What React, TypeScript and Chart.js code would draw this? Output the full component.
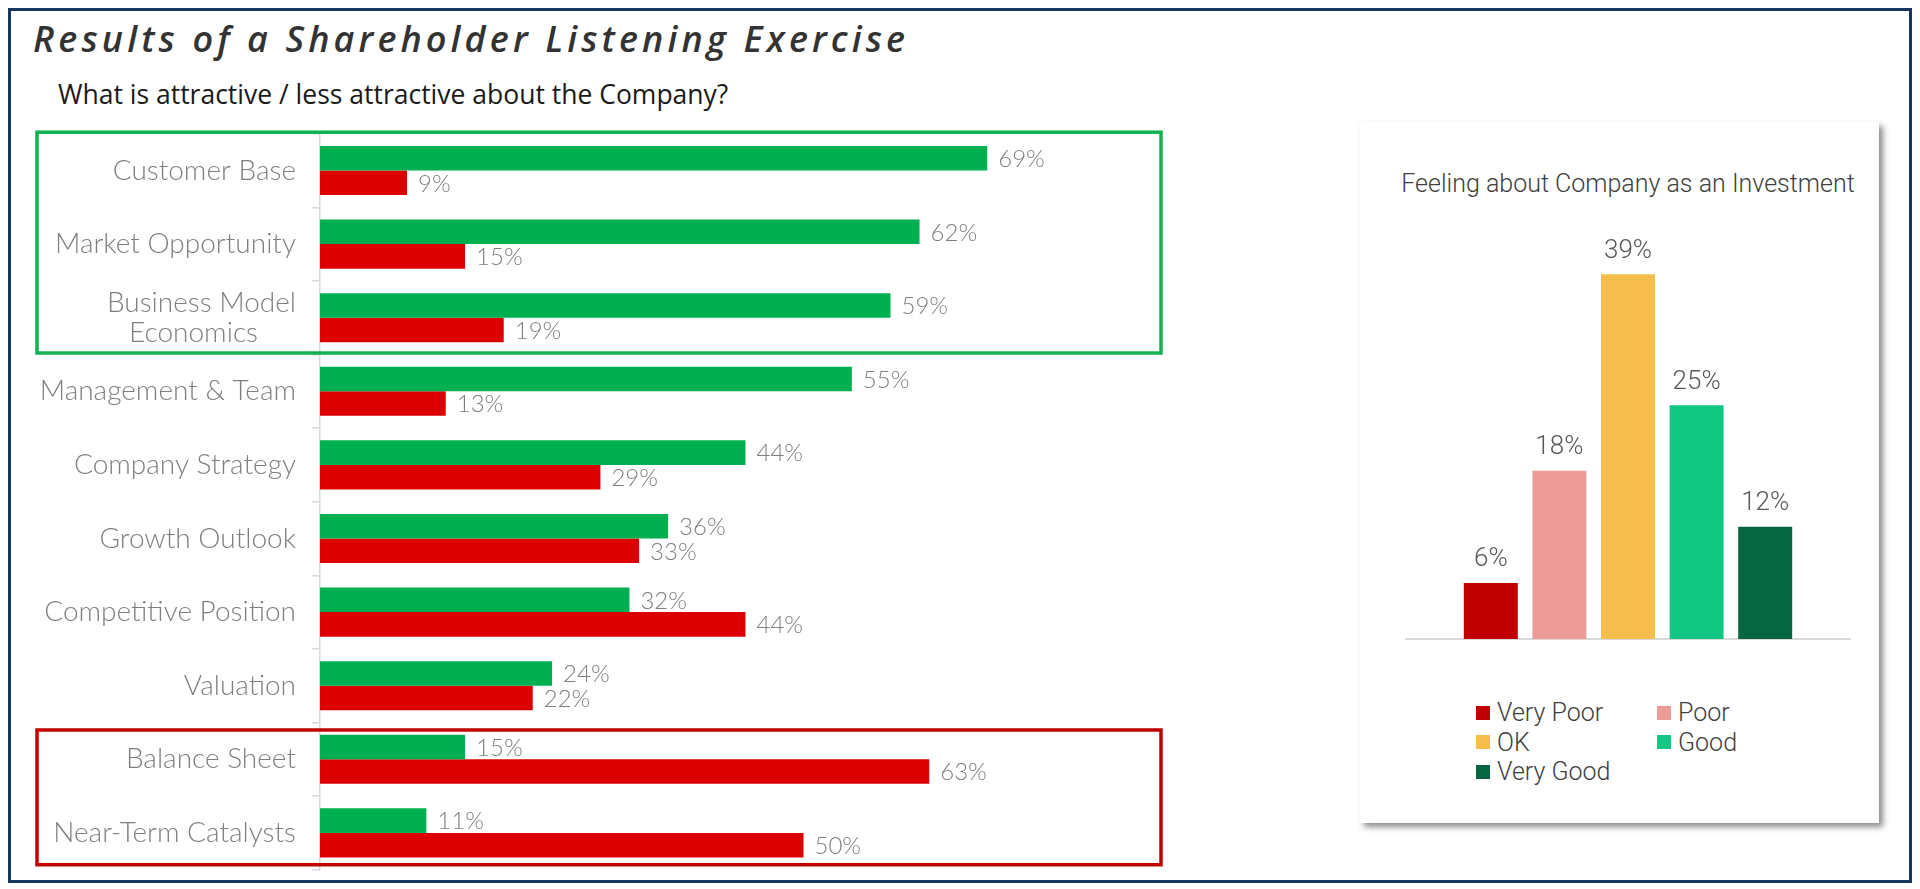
import React, { useEffect, useRef } from 'react';
import { Chart, registerables } from 'chart.js';

Chart.register(...registerables);

// ---------- Data ----------
const categories: (string | string[])[] = [
  'Customer Base',
  'Market Opportunity',
  ['Business Model', 'Economics     '],
  'Management & Team',
  'Company Strategy',
  'Growth Outlook',
  'Competitive Position',
  'Valuation',
  'Balance Sheet',
  'Near-Term Catalysts',
];
const attractive = [69, 62, 59, 55, 44, 36, 32, 24, 15, 11];
const lessAttractive = [9, 15, 19, 13, 29, 33, 44, 22, 63, 50];

const feelingLabels = ['Very Poor', 'Poor', 'OK', 'Good', 'Very Good'];
const feelingValues = [6, 18, 39, 25, 12];
const feelingColors = ['#C00000', '#EC9B97', '#F5BD4C', '#12C784', '#066641'];

const pageTitle = 'Results of a Shareholder Listening Exercise';
const pageSubtitle = 'What is attractive / less attractive about the Company?';
const rightTitle = 'Feeling about Company as an Investment';

// ---------- Plugins ----------
const valueLabels = {
  id: 'valueLabels',
  afterDatasetsDraw(chart: any, _args: any, opts: any) {
    const { ctx } = chart;
    ctx.save();
    ctx.font = opts.font;
    ctx.fillStyle = opts.color;
    chart.data.datasets.forEach((ds: any, i: number) => {
      const meta = chart.getDatasetMeta(i);
      meta.data.forEach((el: any, j: number) => {
        const text = ds.data[j] + '%';
        if (opts.horizontal) {
          ctx.textAlign = 'left';
          ctx.textBaseline = 'middle';
          ctx.fillText(text, el.x + opts.offset, el.y + 1);
        } else {
          ctx.textAlign = 'center';
          ctx.textBaseline = 'bottom';
          ctx.fillText(text, el.x, el.y - opts.offset);
        }
      });
    });
    ctx.restore();
  },
};

const highlightBoxes = {
  id: 'highlightBoxes',
  afterDraw(chart: any, _args: any, opts: any) {
    const { ctx } = chart;
    const y = chart.scales.y;
    const half = (y.getPixelForValue(1) - y.getPixelForValue(0)) / 2;
    ctx.save();
    opts.boxes.forEach((b: any) => {
      const top = y.getPixelForValue(b.from) - half + b.insetTop;
      const bottom = y.getPixelForValue(b.to) + half - b.insetBottom;
      ctx.strokeStyle = b.color;
      ctx.lineWidth = opts.lineWidth;
      ctx.strokeRect(opts.left, top, opts.right - opts.left, bottom - top);
    });
    ctx.restore();
  },
};

function LeftChart() {
  const ref = useRef<HTMLCanvasElement>(null);
  useEffect(() => {
    const chart = new Chart(ref.current as HTMLCanvasElement, {
      type: 'bar',
      data: {
        labels: categories as any,
        datasets: [
          {
            label: 'Attractive',
            data: attractive,
            backgroundColor: '#00B050',
            categoryPercentage: 0.667,
            barPercentage: 1.0,
          },
          {
            label: 'Less attractive',
            data: lessAttractive,
            backgroundColor: '#DC0000',
            categoryPercentage: 0.667,
            barPercentage: 1.0,
          },
        ],
      },
      options: {
        indexAxis: 'y',
        animation: false,
        responsive: false,
        layout: { padding: { top: 13.7, bottom: 10.3, left: 0, right: 76.4 } },
        scales: {
          x: { display: false, min: 0, max: 80 },
          y: {
            grid: {
              display: true,
              drawOnChartArea: false,
              drawTicks: true,
              tickLength: 8,
              color: '#D9D9D9',
              lineWidth: 1.5,
              offset: true,
            },
            border: { display: true, color: '#D9D9D9', width: 1.5 },
            ticks: {
              autoSkip: false,
              padding: 16,
              color: '#7F7F7F',
              font: { family: 'Lato', size: 28, weight: 300 as any, lineHeight: 1.08 },
            },
            afterFit: (s: any) => {
              s.width = 290;
              s.paddingTop = 0;
              s.paddingBottom = 0;
            },
          },
        },
        plugins: {
          legend: { display: false },
          tooltip: { enabled: false },
          valueLabels: {
            horizontal: true,
            offset: 11,
            font: '300 24px Lato',
            color: '#7F7F7F',
          },
          highlightBoxes: {
            left: 7,
            right: 1131,
            lineWidth: 3.5,
            boxes: [
              { from: 0, to: 2, color: '#12B04F', insetTop: -1.5, insetBottom: 1.5 },
              { from: 8, to: 9, color: '#C00000', insetTop: 7.5, insetBottom: 5 },
            ],
          },
        } as any,
      },
      plugins: [valueLabels, highlightBoxes],
    });
    return () => chart.destroy();
  }, []);
  return (
    <canvas
      ref={ref}
      width={1140}
      height={760}
      style={{ position: 'absolute', left: 30, top: 120, width: 1140, height: 760 }}
    />
  );
}

function RightChart() {
  const ref = useRef<HTMLCanvasElement>(null);
  useEffect(() => {
    const chart = new Chart(ref.current as HTMLCanvasElement, {
      type: 'bar',
      data: {
        labels: [''],
        datasets: feelingLabels.map((l, i) => ({
          label: l,
          data: [feelingValues[i]],
          backgroundColor: feelingColors[i],
          categoryPercentage: 0.7725,
          barPercentage: 0.787,
        })),
      },
      options: {
        animation: false,
        responsive: false,
        layout: { padding: { top: 0, bottom: 11, left: 10, right: 10 } },
        scales: {
          x: {
            display: true,
            grid: { display: false, drawTicks: false },
            ticks: { display: false },
            border: { display: true, color: '#D9D9D9', width: 2 },
          },
          y: { display: false, min: 0, max: 48 },
        },
        plugins: {
          legend: { display: false },
          tooltip: { enabled: false },
          valueLabels: {
            horizontal: false,
            offset: 10,
            font: '300 26px Roboto',
            color: '#595959',
          },
        } as any,
      },
      plugins: [valueLabels],
    });
    return () => chart.destroy();
  }, []);
  return (
    <canvas
      ref={ref}
      width={464}
      height={460}
      style={{ position: 'absolute', left: 1396, top: 190, width: 464, height: 460 }}
    />
  );
}

export default function App() {
  return (
    <div style={{ position: 'absolute', left: 0, top: 0, width: 1920, height: 889, background: '#FFFFFF', overflow: 'hidden' }}>
      <div
        style={{
          position: 'absolute',
          left: 8,
          top: 8,
          width: 1904,
          height: 875,
          border: '3.5px solid #17375E',
          boxSizing: 'border-box',
        }}
      />
      <div
        style={{
          position: 'absolute',
          left: 33,
          top: 15,
          fontFamily: 'Open Sans',
          fontStyle: 'italic',
          fontWeight: 600,
          fontSize: 36,
          lineHeight: '48px',
          letterSpacing: '4.1px',
          color: '#333333',
          whiteSpace: 'nowrap',
        }}
      >
        {pageTitle}
      </div>
      <div
        style={{
          position: 'absolute',
          left: 58,
          top: 77,
          fontFamily: 'Open Sans',
          fontSize: 26.5,
          lineHeight: '34px',
          color: '#1A1A1A',
          whiteSpace: 'nowrap',
        }}
      >
        {pageSubtitle}
      </div>
      <LeftChart />
      <div
        style={{
          position: 'absolute',
          left: 1360,
          top: 122,
          width: 519,
          height: 701,
          background: '#FFFFFF',
          boxShadow: '4px 4px 6px rgba(0,0,0,0.45)',
        }}
      />
      <div
        style={{
          position: 'absolute',
          left: 1360,
          top: 170,
          width: 536,
          textAlign: 'center',
          fontFamily: 'Roboto',
          fontWeight: 300,
          fontSize: 25,
          lineHeight: '28px',
          color: '#404040',
          whiteSpace: 'nowrap',
        }}
      >
        {rightTitle}
      </div>
      <RightChart />
      <div
        style={{
          position: 'absolute',
          left: 1476,
          top: 698,
          display: 'grid',
          gridTemplateColumns: '181px auto',
          gridAutoRows: '29.5px',
        }}
      >
        {feelingLabels.map((l, i) => (
          <div key={l} style={{ display: 'flex', alignItems: 'center' }}>
            <span style={{ display: 'inline-block', width: 14, height: 14, background: feelingColors[i], marginRight: 7 }} />
            <span
              style={{
                fontFamily: 'Roboto',
                fontWeight: 300,
                fontSize: 25,
                lineHeight: '29.5px',
                color: '#404040',
                whiteSpace: 'nowrap',
              }}
            >
              {l}
            </span>
          </div>
        ))}
      </div>
    </div>
  );
}
